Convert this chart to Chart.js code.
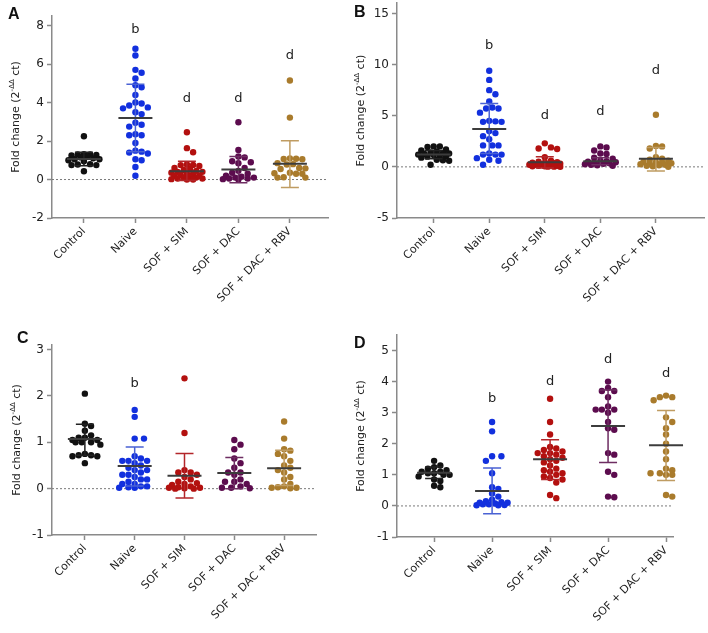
<!DOCTYPE html>
<html>
<head>
<meta charset="utf-8">
<script src="https://cdn.jsdelivr.net/npm/chart.js@4.4.0/dist/chart.umd.min.js"></script>
<style>
    body { margin: 0; background: #fff; }
    #wrap { position: relative; width: 708px; height: 633px; overflow: hidden; }
    #wrap canvas { position: absolute; }
</style>
</head>
<body>
<div id="wrap">
    <canvas id="panelA" width="354" height="320" style="left:0;top:0"></canvas>
    <canvas id="panelB" width="354" height="320" style="left:354px;top:0"></canvas>
    <canvas id="panelC" width="354" height="313" style="left:0;top:320px"></canvas>
    <canvas id="panelD" width="354" height="313" style="left:354px;top:320px"></canvas>
</div>
<script>
// グループ名
const categories = ['Control', 'Naive', 'SOF + SIM', 'SOF + DAC', 'SOF + DAC + RBV'];

// A
const ticksA = [-2, 0, 2, 4, 6, 8];
const aControl = [2.25, 1.32, 1.3, 1.3, 1.28, 1.25, 1.2, 1.15, 1.1, 1.05, 1.05, 1.0, 0.95, 0.8, 0.78, 0.75, 0.75, 0.43];
const aNaive = [6.8, 6.45, 5.7, 5.55, 5.25, 4.9, 4.8, 4.4, 4.0, 3.95, 3.85, 3.75, 3.7, 3.5, 3.4, 2.95, 2.85, 2.75, 2.35, 2.3, 2.3, 1.9, 1.5, 1.45, 1.4, 1.35, 1.05, 1.0, 0.65, 0.2];
const aSim = [2.46, 1.63, 1.42, 0.78, 0.76, 0.75, 0.7, 0.6, 0.55, 0.5, 0.45, 0.4, 0.4, 0.35, 0.3, 0.3, 0.25, 0.2, 0.2, 0.15, 0.1, 0.1, 0.05, 0.05, 0.02, 0.0, 0.0];
const aDac = [2.98, 1.54, 1.2, 1.15, 0.95, 0.9, 0.85, 0.6, 0.45, 0.35, 0.3, 0.2, 0.15, 0.1, 0.1, 0.05, 0.05, 0.02, 0.0];
const aRbv = [5.15, 3.22, 1.1, 1.08, 1.07, 1.05, 0.85, 0.8, 0.78, 0.6, 0.58, 0.55, 0.35, 0.33, 0.3, 0.3, 0.12, 0.1, 0.1];
const meanA = [1.07, 3.2, 0.43, 0.52, 0.82];
const sdHiA = [1.42, 4.95, 0.95, 1.2, 2.02];
const sdLoA = [0.72, 1.45, -0.05, -0.17, -0.42];
const sigA = ['', 'b', 'd', 'd', 'd'];
const sigYA = [null, 7.8, 4.23, 4.23, 6.44];

// B
const ticksB = [-5, 0, 5, 10, 15];
const bControl = [2.0, 2.0, 1.95, 1.7, 1.6, 1.5, 1.4, 1.35, 1.3, 1.25, 1.2, 1.15, 1.1, 1.05, 1.0, 0.9, 0.7, 0.65, 0.6, 0.2];
const bNaive = [9.4, 8.5, 7.5, 7.1, 6.4, 5.8, 5.7, 5.7, 5.3, 4.5, 4.45, 4.4, 4.4, 3.5, 3.3, 3.0, 2.7, 2.1, 2.1, 2.1, 1.3, 1.2, 1.2, 1.2, 0.85, 0.7, 0.6, 0.2];
const bSim = [2.3, 1.9, 1.8, 1.75, 0.95, 0.6, 0.5, 0.45, 0.4, 0.4, 0.35, 0.3, 0.3, 0.25, 0.2, 0.2, 0.15, 0.1, 0.1, 0.05, 0.05, 0.02, 0.02, 0.0];
const bDac = [2.0, 1.9, 1.6, 1.3, 1.25, 0.9, 0.8, 0.6, 0.55, 0.5, 0.45, 0.4, 0.35, 0.3, 0.25, 0.2, 0.15, 0.1];
const bRbv = [5.1, 2.05, 2.0, 1.8, 0.95, 0.8, 0.7, 0.6, 0.5, 0.45, 0.4, 0.35, 0.3, 0.25, 0.2, 0.15, 0.1, 0.05, 0.0];
const meanB = [1.2, 3.7, 0.45, 0.55, 0.8];
const sdHiB = [1.6, 6.2, 1.0, 0.9, 1.9];
const sdLoB = [0.8, 1.3, -0.1, 0.2, -0.4];
const sigB = ['', 'b', 'd', 'd', 'd'];
const sigYB = [null, 11.9, 5.0, 5.4, 9.45];

// C
const ticksC = [-1, 0, 1, 2, 3];
const cControl = [2.05, 1.4, 1.35, 1.25, 1.15, 1.1, 1.1, 1.05, 1.05, 1.0, 1.0, 1.0, 0.95, 0.75, 0.72, 0.72, 0.7, 0.7, 0.55];
const cNaive = [1.7, 1.55, 1.08, 1.08, 0.7, 0.65, 0.6, 0.6, 0.6, 0.55, 0.5, 0.45, 0.4, 0.4, 0.35, 0.3, 0.3, 0.25, 0.2, 0.2, 0.15, 0.1, 0.1, 0.05, 0.05, 0.03, 0.02, 0.02];
const cSim = [2.38, 1.2, 0.4, 0.35, 0.35, 0.3, 0.25, 0.2, 0.15, 0.12, 0.1, 0.08, 0.05, 0.03, 0.02, 0.02, 0.01, 0.0, 0.0];
const cDac = [1.05, 0.95, 0.85, 0.65, 0.55, 0.45, 0.35, 0.35, 0.3, 0.2, 0.15, 0.15, 0.1, 0.05, 0.02, 0.02, 0.01];
const cRbv = [1.45, 1.08, 0.85, 0.82, 0.75, 0.7, 0.6, 0.5, 0.45, 0.4, 0.35, 0.25, 0.2, 0.1, 0.05, 0.03, 0.02, 0.02, 0.01];
const meanC = [1.07, 0.49, 0.28, 0.34, 0.44];
const sdHiC = [1.39, 0.9, 0.76, 0.67, 0.83];
const sdLoC = [0.72, 0.06, -0.2, 0.0, 0.07];
const sigC = ['', 'b', '', '', ''];
const sigYC = [null, 2.26, null, null, null];

// D
const ticksD = [-1, 0, 1, 2, 3, 4, 5];
const dControl = [1.45, 1.3, 1.25, 1.2, 1.15, 1.1, 1.1, 1.05, 1.05, 1.0, 1.0, 0.95, 0.85, 0.8, 0.65, 0.6];
const dNaive = [2.7, 2.4, 1.6, 1.6, 1.45, 1.05, 0.6, 0.55, 0.4, 0.3, 0.2, 0.15, 0.12, 0.1, 0.1, 0.08, 0.05, 0.05, 0.03, 0.02, 0.02];
const dSim = [3.45, 2.7, 2.3, 1.9, 1.85, 1.8, 1.75, 1.7, 1.7, 1.65, 1.6, 1.55, 1.5, 1.45, 1.4, 1.3, 1.2, 1.15, 1.1, 1.05, 1.0, 0.95, 0.9, 0.85, 0.75, 0.35, 0.25];
const dDac = [4.0, 3.8, 3.7, 3.7, 3.5, 3.2, 3.1, 3.1, 3.1, 3.0, 2.7, 2.5, 2.45, 1.7, 1.65, 1.1, 1.0, 0.3, 0.28];
const dRbv = [3.55, 3.5, 3.5, 3.4, 3.4, 2.85, 2.7, 2.5, 2.3, 2.0, 1.75, 1.5, 1.2, 1.15, 1.05, 1.05, 1.05, 1.0, 1.0, 0.35, 0.3];
const meanD = [1.07, 0.48, 1.5, 2.57, 1.95];
const sdHiD = [1.25, 1.22, 2.13, 3.73, 3.07];
const sdLoD = [0.88, -0.25, 0.85, 1.4, 0.82];
const sigD = ['', 'b', 'd', 'd', 'd'];
const sigYD = [null, 3.45, 4.0, 4.7, 4.27];

// 色
const pointColors = ['#111111', '#1230de', '#b3100f', '#5c0c4e', '#a97b2c'];
const barColors = ['#222222', '#4a62d4', '#b3262a', '#6e2d62', '#bf9c62'];
const axisColor = '#8a8a8a';
const textColor = '#222222';

Chart.defaults.font.family = "'DejaVu Sans', Verdana, sans-serif";

const panels = [
    {
        canvas: 'panelA', letter: 'A', letterPos: [8, 19], titleX: 16,
        area: { left: 52, top: 16, right: 328, bottom: 218 },
        xRange: [-0.62, 4.74], yRange: [-2, 8.5], ticks: ticksA,
        groups: [aControl, aNaive, aSim, aDac, aRbv],
        mean: meanA, sdHi: sdHiA, sdLo: sdLoA, sig: sigA, sigY: sigYA
    },
    {
        canvas: 'panelB', letter: 'B', letterPos: [0, 17], titleX: 7,
        area: { left: 43, top: 3, right: 352, bottom: 218 },
        xRange: [-0.66, 4.88], yRange: [-5, 16], ticks: ticksB,
        groups: [bControl, bNaive, bSim, bDac, bRbv],
        mean: meanB, sdHi: sdHiB, sdLo: sdLoB, sig: sigB, sigY: sigYB
    },
    {
        canvas: 'panelC', letter: 'C', letterPos: [17, 23], titleX: 17,
        area: { left: 52, top: 25, right: 316, bottom: 215 },
        xRange: [-0.66, 4.64], yRange: [-1, 3.1], ticks: ticksC,
        groups: [cControl, cNaive, cSim, cDac, cRbv],
        mean: meanC, sdHi: sdHiC, sdLo: sdLoC, sig: sigC, sigY: sigYC
    },
    {
        canvas: 'panelD', letter: 'D', letterPos: [0, 28], titleX: 7,
        area: { left: 43, top: 15, right: 319, bottom: 217 },
        xRange: [-0.64, 4.12], yRange: [-1, 5.5], ticks: ticksD,
        groups: [dControl, dNaive, dSim, dDac, dRbv],
        mean: meanD, sdHi: sdHiD, sdLo: sdLoD, sig: sigD, sigY: sigYD
    }
];

// 点を横へずらす（ピクセル空間、幅は最大±17px、入りきらない時は重ねる）
function swarm(values, index, xs, ys) {
    const minDist = 6.2;
    const step = 3.1;
    const maxOff = 17;
    const cx = xs.getPixelForValue(index);
    const cands = [0];
    for (let k = 1; k * step <= maxOff; k++) {
        cands.push(k * step, -k * step);
    }
    const placed = [];
    return values.map(v => {
        const py = ys.getPixelForValue(v);
        let best = 0;
        let bestGap = -1;
        for (const o of cands) {
            const gap = placed.reduce((m, p) => Math.min(m, Math.hypot(p.x - (cx + o), p.y - py)), Infinity);
            if (gap >= minDist) { best = o; bestGap = gap; break; }
            if (gap > bestGap) { best = o; bestGap = gap; }
        }
        placed.push({ x: cx + best, y: py });
        return { x: xs.getValueForPixel(cx + best), y: v };
    });
}

// 平均・SD・有意差記号・軸タイトル
function decorPlugin(p) {
    return {
        id: 'decor' + p.letter,
        afterDatasetsDraw(chart) {
            const ctx = chart.ctx;
            const xs = chart.scales.x;
            const ys = chart.scales.y;
            const ca = chart.chartArea;
            ctx.save();

            p.mean.forEach((m, i) => {
                const cx = xs.getPixelForValue(i);
                const yHi = ys.getPixelForValue(p.sdHi[i]);
                const yLo = ys.getPixelForValue(p.sdLo[i]);
                const yM = ys.getPixelForValue(m);
                ctx.strokeStyle = barColors[i];
                ctx.lineWidth = 1.5;
                ctx.beginPath();
                ctx.moveTo(cx, yHi); ctx.lineTo(cx, yLo);
                ctx.moveTo(cx - 9, yHi); ctx.lineTo(cx + 9, yHi);
                ctx.moveTo(cx - 9, yLo); ctx.lineTo(cx + 9, yLo);
                ctx.stroke();
                ctx.strokeStyle = '#3c3c3c';
                ctx.lineWidth = 2;
                ctx.beginPath();
                ctx.moveTo(cx - 17, yM); ctx.lineTo(cx + 17, yM);
                ctx.stroke();
            });

            ctx.fillStyle = textColor;
            ctx.font = "13px 'DejaVu Sans'";
            ctx.textAlign = 'center';
            ctx.textBaseline = 'middle';
            p.sig.forEach((s, i) => {
                if (s) ctx.fillText(s, xs.getPixelForValue(i), ys.getPixelForValue(p.sigY[i]));
            });

            // パネル記号
            ctx.font = "bold 16px 'Liberation Sans'";
            ctx.textAlign = 'left';
            ctx.textBaseline = 'alphabetic';
            ctx.fillStyle = '#111';
            ctx.fillText(p.letter, p.letterPos[0], p.letterPos[1]);

            // 縦軸タイトル（上付き文字付き）
            const main = 'Fold change (2';
            const sup = '-ΔΔ';
            const tail = ' ct)';
            const fMain = "11px 'DejaVu Sans'";
            const fSup = "7px 'DejaVu Sans'";
            ctx.font = fMain;
            const wMain = ctx.measureText(main).width;
            const wTail = ctx.measureText(tail).width;
            ctx.font = fSup;
            const wSup = ctx.measureText(sup).width;
            const total = wMain + wSup + wTail;
            ctx.translate(p.titleX, (ca.top + ca.bottom) / 2);
            ctx.rotate(-Math.PI / 2);
            ctx.textBaseline = 'middle';
            ctx.fillStyle = textColor;
            let x0 = -total / 2;
            ctx.font = fMain;
            ctx.fillText(main, x0, 0);
            x0 += wMain;
            ctx.font = fSup;
            ctx.fillText(sup, x0, -4);
            x0 += wSup;
            ctx.font = fMain;
            ctx.fillText(tail, x0, 0);
            ctx.restore();
        }
    };
}

function buildPanel(p) {
    const el = document.getElementById(p.canvas);
    const W = el.width;
    const H = el.height;

    const datasets = p.groups.map((g, i) => ({
        type: 'scatter',
        data: [],
        backgroundColor: pointColors[i],
        borderWidth: 0,
        pointRadius: 3.2,
        pointHoverRadius: 3.2,
        clip: false,
        order: 1
    }));
    datasets.push({
        type: 'line',
        data: [{ x: p.xRange[0], y: 0 }, { x: p.xRange[1], y: 0 }],
        borderColor: '#7a7a7a',
        borderWidth: 1,
        borderDash: [2, 2],
        pointRadius: 0,
        order: 5
    });

    const chart = new Chart(el, {
        type: 'scatter',
        data: { datasets: datasets },
        options: {
            responsive: false,
            animation: false,
            layout: { padding: { left: 0, top: p.area.top, right: W - p.area.right, bottom: 0 } },
            plugins: { legend: { display: false }, tooltip: { enabled: false } },
            scales: {
                x: {
                    type: 'linear',
                    min: p.xRange[0],
                    max: p.xRange[1],
                    afterBuildTicks: s => { s.ticks = categories.map((c, i) => ({ value: i })); },
                    afterFit: s => { s.height = H - p.area.bottom; s.paddingLeft = 0; s.paddingRight = 0; },
                    ticks: {
                        callback: v => categories[v],
                        minRotation: 45,
                        maxRotation: 45,
                        autoSkip: false,
                        color: textColor,
                        font: { size: 11 },
                        padding: 2
                    },
                    grid: { drawOnChartArea: false, tickLength: 5, tickColor: axisColor, tickWidth: 1.5 },
                    border: { color: axisColor, width: 1.5 }
                },
                y: {
                    min: p.yRange[0],
                    max: p.yRange[1],
                    afterBuildTicks: s => { s.ticks = p.ticks.map(v => ({ value: v })); },
                    afterFit: s => { s.width = p.area.left; s.paddingTop = 0; s.paddingBottom = 0; },
                    ticks: { color: textColor, font: { size: 12 }, padding: 3 },
                    grid: { drawOnChartArea: false, tickLength: 5, tickColor: axisColor, tickWidth: 1.5 },
                    border: { color: axisColor, width: 1.5 }
                }
            }
        },
        plugins: [decorPlugin(p)]
    });

    const xs = chart.scales.x;
    const ys = chart.scales.y;
    p.groups.forEach((vals, i) => {
        chart.data.datasets[i].data = swarm(vals, i, xs, ys);
    });
    chart.update('none');
}

document.addEventListener('DOMContentLoaded', function() {
    panels.forEach(buildPanel);
});
</script>
</body>
</html>
